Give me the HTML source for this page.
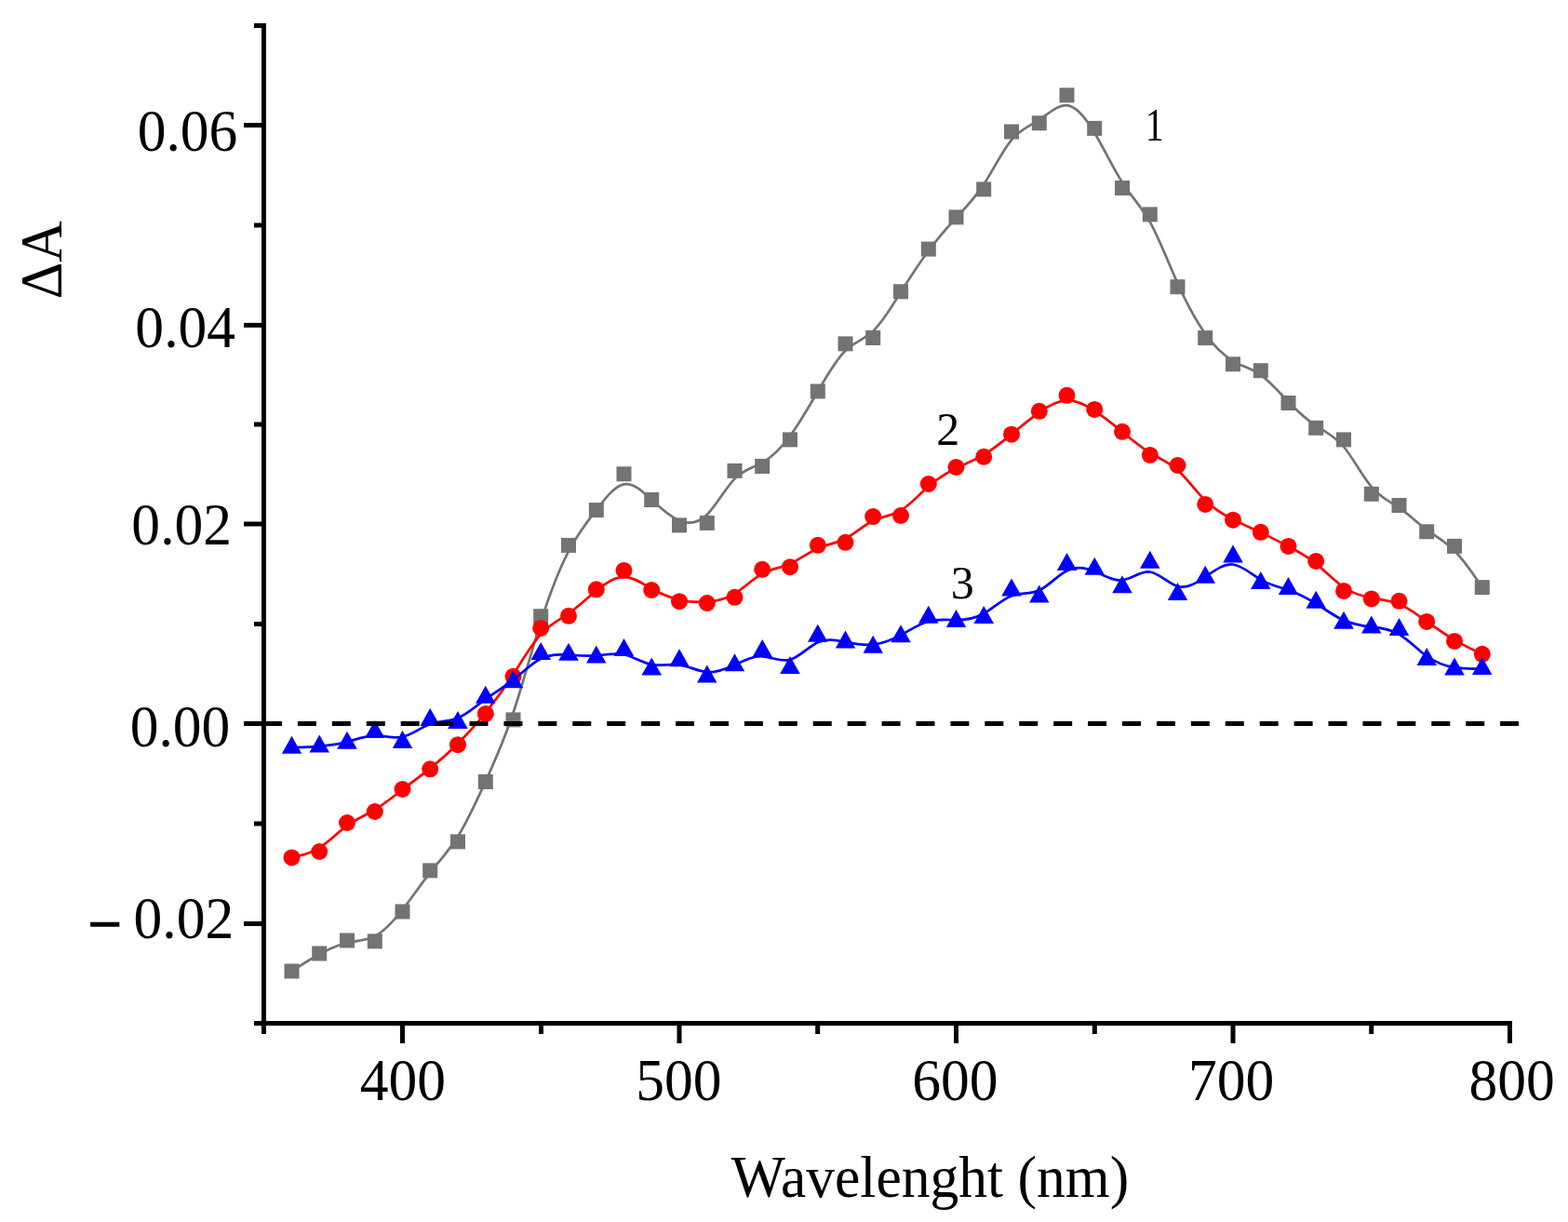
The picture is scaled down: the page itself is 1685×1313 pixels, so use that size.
<!DOCTYPE html><html><head><meta charset="utf-8"><title>Delta A spectra</title><style>html,body{margin:0;padding:0;background:#fff;}svg{display:block;}text{font-family:"Liberation Serif","Times New Roman",serif;fill:#000;}</style></head><body>
<svg width="1685" height="1313" viewBox="0 0 1685 1313">
<rect width="1685" height="1313" fill="#fff"/>
<path d="M313.5 1043.5C313.5 1043.5 313.5 1043.5 318.5 1040.3C323.4 1037.2 333.3 1030.8 343.2 1025.3C353.2 1019.8 363.1 1015.2 373.0 1013.0C382.9 1010.8 392.8 1011.1 402.8 1005.9C412.7 1000.8 422.6 990.1 432.5 977.5C442.4 964.8 452.3 950.1 462.2 937.6C472.2 925.1 482.1 914.7 492.0 898.8C501.9 882.9 511.8 861.5 521.8 839.6C531.7 817.8 541.6 795.6 551.5 766.0C561.4 736.3 571.3 699.3 581.2 668.0C591.2 636.8 601.1 611.3 611.0 592.3C620.9 573.3 630.8 560.7 640.8 547.9C650.7 535.2 660.6 522.2 670.5 520.4C680.4 518.5 690.3 527.8 700.2 537.0C710.2 546.1 720.1 555.3 730.0 559.4C739.9 563.6 749.8 562.7 759.8 553.0C769.7 543.2 779.6 524.6 789.5 514.4C799.4 504.3 809.3 502.6 819.2 497.1C829.2 491.5 839.1 481.9 849.0 468.5C858.9 455.1 868.8 437.8 878.8 420.6C888.7 403.5 898.6 386.4 908.5 376.8C918.4 367.3 928.3 365.1 938.2 355.8C948.2 346.4 958.1 329.9 968.0 314.0C977.9 298.1 987.8 282.8 997.8 269.5C1007.7 256.2 1017.6 244.8 1027.5 234.1C1037.4 223.4 1047.3 213.4 1057.2 198.1C1067.2 182.8 1077.1 162.1 1087.0 150.3C1096.9 138.4 1106.8 135.4 1116.8 128.8C1126.7 122.3 1136.6 112.3 1146.5 113.2C1156.4 114.2 1166.3 126.0 1176.2 142.7C1186.2 159.3 1196.1 180.6 1206.0 196.0C1215.9 211.5 1225.8 220.9 1235.8 238.6C1245.7 256.3 1255.6 282.3 1265.5 304.4C1275.4 326.5 1285.3 344.8 1295.2 358.7C1305.2 372.5 1315.1 381.9 1325.0 387.8C1334.9 393.6 1344.8 395.9 1354.8 402.8C1364.7 409.8 1374.6 421.4 1384.5 431.7C1394.4 441.9 1404.3 450.9 1414.2 457.4C1424.2 464.0 1434.1 468.2 1444.0 480.0C1453.9 491.9 1463.8 511.3 1473.8 523.1C1483.7 534.9 1493.6 538.9 1503.5 545.7C1513.4 552.4 1523.3 561.9 1533.2 569.2C1543.2 576.5 1553.1 581.7 1563.0 591.7C1572.9 601.6 1582.8 616.4 1587.8 623.7C1592.8 631.1 1592.8 631.1 1592.8 631.1" fill="none" stroke="#737373" stroke-width="2.7"/>
<g fill="#737373"><rect x="305.5" y="1035.5" width="16.0" height="16.0"/><rect x="335.2" y="1016.5" width="16.0" height="16.0"/><rect x="365.0" y="1002.5" width="16.0" height="16.0"/><rect x="394.8" y="1003.4" width="16.0" height="16.0"/><rect x="424.5" y="971.5" width="16.0" height="16.0"/><rect x="454.2" y="927.4" width="16.0" height="16.0"/><rect x="484.0" y="896.4" width="16.0" height="16.0"/><rect x="513.8" y="832.0" width="16.0" height="16.0"/><rect x="543.5" y="765.4" width="16.0" height="16.0"/><rect x="573.2" y="654.2" width="16.0" height="16.0"/><rect x="603.0" y="577.9" width="16.0" height="16.0"/><rect x="632.8" y="540.1" width="16.0" height="16.0"/><rect x="662.5" y="501.3" width="16.0" height="16.0"/><rect x="692.2" y="529.0" width="16.0" height="16.0"/><rect x="722.0" y="556.4" width="16.0" height="16.0"/><rect x="751.8" y="553.9" width="16.0" height="16.0"/><rect x="781.5" y="497.9" width="16.0" height="16.0"/><rect x="811.2" y="493.0" width="16.0" height="16.0"/><rect x="841.0" y="464.4" width="16.0" height="16.0"/><rect x="870.8" y="412.5" width="16.0" height="16.0"/><rect x="900.5" y="361.4" width="16.0" height="16.0"/><rect x="930.2" y="355.0" width="16.0" height="16.0"/><rect x="960.0" y="305.3" width="16.0" height="16.0"/><rect x="989.8" y="259.6" width="16.0" height="16.0"/><rect x="1019.5" y="225.4" width="16.0" height="16.0"/><rect x="1049.2" y="195.4" width="16.0" height="16.0"/><rect x="1079.0" y="133.5" width="16.0" height="16.0"/><rect x="1108.8" y="124.3" width="16.0" height="16.0"/><rect x="1138.5" y="94.3" width="16.0" height="16.0"/><rect x="1168.2" y="129.9" width="16.0" height="16.0"/><rect x="1198.0" y="194.0" width="16.0" height="16.0"/><rect x="1227.8" y="222.4" width="16.0" height="16.0"/><rect x="1257.5" y="300.2" width="16.0" height="16.0"/><rect x="1287.2" y="355.1" width="16.0" height="16.0"/><rect x="1317.0" y="383.3" width="16.0" height="16.0"/><rect x="1346.8" y="390.2" width="16.0" height="16.0"/><rect x="1376.5" y="425.0" width="16.0" height="16.0"/><rect x="1406.2" y="451.8" width="16.0" height="16.0"/><rect x="1436.0" y="464.4" width="16.0" height="16.0"/><rect x="1465.8" y="522.8" width="16.0" height="16.0"/><rect x="1495.5" y="535.0" width="16.0" height="16.0"/><rect x="1525.2" y="563.3" width="16.0" height="16.0"/><rect x="1555.0" y="578.9" width="16.0" height="16.0"/><rect x="1584.8" y="623.1" width="16.0" height="16.0"/></g>
<path d="M313.5 921.4C313.5 921.4 313.5 921.4 318.5 920.3C323.4 919.3 333.3 917.1 343.2 910.9C353.2 904.7 363.1 894.3 373.0 887.2C382.9 880.0 392.8 876.0 402.8 870.0C412.7 864.0 422.6 856.0 432.5 848.4C442.4 840.8 452.3 833.5 462.2 825.6C472.2 817.6 482.1 808.9 492.0 799.0C501.9 789.1 511.8 778.1 521.8 765.8C531.7 753.6 541.6 740.2 551.5 724.8C561.4 709.5 571.3 692.2 581.2 681.4C591.2 670.5 601.1 666.2 611.0 659.2C620.9 652.3 630.8 642.8 640.8 634.6C650.7 626.5 660.6 619.7 670.5 619.8C680.4 619.9 690.3 627.0 700.2 632.5C710.2 638.1 720.1 642.1 730.0 644.5C739.9 646.8 749.8 647.4 759.8 646.7C769.7 645.9 779.6 643.9 789.5 637.8C799.4 631.8 809.3 621.8 819.2 616.4C829.2 610.9 839.1 610.1 849.0 605.7C858.9 601.4 868.8 593.6 878.8 589.2C888.7 584.8 898.6 583.8 908.5 578.7C918.4 573.6 928.3 564.3 938.2 559.5C948.2 554.7 958.1 554.4 968.0 548.5C977.9 542.7 987.8 531.3 997.8 522.6C1007.7 514.0 1017.6 507.9 1027.5 503.1C1037.4 498.2 1047.3 494.5 1057.2 488.6C1067.2 482.8 1077.1 474.7 1087.0 466.6C1096.9 458.4 1106.8 450.1 1116.8 443.1C1126.7 436.1 1136.6 430.5 1146.5 430.2C1156.4 429.8 1166.3 434.9 1176.2 441.4C1186.2 447.9 1196.1 455.8 1206.0 464.0C1215.9 472.2 1225.8 480.5 1235.8 486.6C1245.7 492.6 1255.6 496.3 1265.5 505.1C1275.4 514.0 1285.3 527.9 1295.2 537.7C1305.2 547.5 1315.1 553.1 1325.0 558.1C1334.9 563.1 1344.8 567.4 1354.8 572.1C1364.7 576.8 1374.6 581.9 1384.5 587.0C1394.4 592.2 1404.3 597.6 1414.2 605.6C1424.2 613.6 1434.1 624.2 1444.0 631.0C1453.9 637.7 1463.8 640.6 1473.8 642.4C1483.7 644.2 1493.6 645.0 1503.5 649.1C1513.4 653.2 1523.3 660.5 1533.2 667.7C1543.2 674.9 1553.1 681.9 1563.0 687.7C1572.9 693.5 1582.8 698.2 1587.8 700.5C1592.8 702.8 1592.8 702.8 1592.8 702.8" fill="none" stroke="#f00" stroke-width="2.7"/>
<g fill="#f00"><circle cx="313.5" cy="921.4" r="9.0"/><circle cx="343.2" cy="915.0" r="9.0"/><circle cx="373.0" cy="884.0" r="9.0"/><circle cx="402.8" cy="872.0" r="9.0"/><circle cx="432.5" cy="848.0" r="9.0"/><circle cx="462.2" cy="826.3" r="9.0"/><circle cx="492.0" cy="800.2" r="9.0"/><circle cx="521.8" cy="767.0" r="9.0"/><circle cx="551.5" cy="726.8" r="9.0"/><circle cx="581.2" cy="674.9" r="9.0"/><circle cx="611.0" cy="661.8" r="9.0"/><circle cx="640.8" cy="633.3" r="9.0"/><circle cx="670.5" cy="612.9" r="9.0"/><circle cx="700.2" cy="634.0" r="9.0"/><circle cx="730.0" cy="646.2" r="9.0"/><circle cx="759.8" cy="648.0" r="9.0"/><circle cx="789.5" cy="641.8" r="9.0"/><circle cx="819.2" cy="611.8" r="9.0"/><circle cx="849.0" cy="609.2" r="9.0"/><circle cx="878.8" cy="585.8" r="9.0"/><circle cx="908.5" cy="582.8" r="9.0"/><circle cx="938.2" cy="555.1" r="9.0"/><circle cx="968.0" cy="554.0" r="9.0"/><circle cx="997.8" cy="520.0" r="9.0"/><circle cx="1027.5" cy="501.9" r="9.0"/><circle cx="1057.2" cy="490.8" r="9.0"/><circle cx="1087.0" cy="466.7" r="9.0"/><circle cx="1116.8" cy="441.8" r="9.0"/><circle cx="1146.5" cy="424.8" r="9.0"/><circle cx="1176.2" cy="439.9" r="9.0"/><circle cx="1206.0" cy="463.8" r="9.0"/><circle cx="1235.8" cy="488.9" r="9.0"/><circle cx="1265.5" cy="500.0" r="9.0"/><circle cx="1295.2" cy="541.9" r="9.0"/><circle cx="1325.0" cy="558.7" r="9.0"/><circle cx="1354.8" cy="571.8" r="9.0"/><circle cx="1384.5" cy="586.9" r="9.0"/><circle cx="1414.2" cy="602.9" r="9.0"/><circle cx="1444.0" cy="634.9" r="9.0"/><circle cx="1473.8" cy="643.4" r="9.0"/><circle cx="1503.5" cy="645.8" r="9.0"/><circle cx="1533.2" cy="667.9" r="9.0"/><circle cx="1563.0" cy="688.9" r="9.0"/><circle cx="1592.8" cy="702.8" r="9.0"/></g>
<path d="M313.5 803.4C313.5 803.4 313.5 803.4 318.5 803.2C323.4 803.0 333.3 802.6 343.2 801.8C353.2 800.9 363.1 799.7 373.0 797.1C382.9 794.5 392.8 790.5 402.8 790.4C412.7 790.2 422.6 793.9 432.5 791.7C442.4 789.6 452.3 781.6 462.2 778.1C472.2 774.6 482.1 775.6 492.0 771.5C501.9 767.5 511.8 758.5 521.8 751.2C531.7 743.9 541.6 738.4 551.5 730.6C561.4 722.8 571.3 712.7 581.2 707.8C591.2 702.8 601.1 703.1 611.0 703.7C620.9 704.3 630.8 705.2 640.8 704.4C650.7 703.7 660.6 701.2 670.5 703.3C680.4 705.5 690.3 712.3 700.2 714.1C710.2 716.0 720.1 712.9 730.0 714.3C739.9 715.6 749.8 721.4 759.8 722.2C769.7 723.1 779.6 719.0 789.5 714.5C799.4 709.9 809.3 704.8 819.2 705.3C829.2 705.7 839.1 711.6 849.0 708.9C858.9 706.2 868.8 694.8 878.8 690.2C888.7 685.6 898.6 687.9 908.5 689.9C918.4 691.9 928.3 693.6 938.2 692.6C948.2 691.5 958.1 687.7 968.0 682.4C977.9 677.1 987.8 670.3 997.8 667.5C1007.7 664.8 1017.6 666.2 1027.5 666.2C1037.4 666.2 1047.3 664.9 1057.2 659.3C1067.2 653.7 1077.1 643.9 1087.0 640.2C1096.9 636.5 1106.8 638.9 1116.8 634.3C1126.7 629.7 1136.6 618.1 1146.5 613.2C1156.4 608.2 1166.3 609.8 1176.2 613.9C1186.2 618.0 1196.1 624.5 1206.0 623.3C1215.9 622.1 1225.8 613.2 1235.8 614.5C1245.7 615.8 1255.6 627.3 1265.5 630.0C1275.4 632.7 1285.3 626.6 1295.2 619.8C1305.2 613.0 1315.1 605.5 1325.0 606.5C1334.9 607.6 1344.8 617.1 1354.8 622.8C1364.7 628.6 1374.6 630.6 1384.5 634.0C1394.4 637.5 1404.3 642.5 1414.2 648.6C1424.2 654.8 1434.1 662.1 1444.0 666.6C1453.9 671.0 1463.8 672.5 1473.8 673.7C1483.7 674.9 1493.6 675.7 1503.5 681.5C1513.4 687.3 1523.3 698.0 1533.2 705.0C1543.2 712.1 1553.1 715.6 1563.0 717.2C1572.9 718.9 1582.8 718.7 1587.8 718.6C1592.8 718.6 1592.8 718.6 1592.8 718.6" fill="none" stroke="#00f" stroke-width="2.7"/>
<g fill="#00f"><path d="M313.5 790.7L324.2 809.7L302.8 809.7Z"/><path d="M343.2 789.5L354.0 808.5L332.5 808.5Z"/><path d="M373.0 785.8L383.8 804.8L362.2 804.8Z"/><path d="M402.8 773.9L413.5 792.9L392.0 792.9Z"/><path d="M432.5 784.9L443.2 803.9L421.8 803.9Z"/><path d="M462.2 760.9L473.0 779.9L451.5 779.9Z"/><path d="M492.0 763.9L502.8 782.9L481.2 782.9Z"/><path d="M521.8 736.8L532.5 755.8L511.0 755.8Z"/><path d="M551.5 720.2L562.2 739.2L540.8 739.2Z"/><path d="M581.2 689.9L592.0 708.9L570.5 708.9Z"/><path d="M611.0 690.7L621.8 709.7L600.2 709.7Z"/><path d="M640.8 693.5L651.5 712.5L630.0 712.5Z"/><path d="M670.5 686.0L681.2 705.0L659.8 705.0Z"/><path d="M700.2 706.4L711.0 725.4L689.5 725.4Z"/><path d="M730.0 697.2L740.8 716.2L719.2 716.2Z"/><path d="M759.8 714.5L770.5 733.5L749.0 733.5Z"/><path d="M789.5 702.3L800.2 721.3L778.8 721.3Z"/><path d="M819.2 687.1L830.0 706.1L808.5 706.1Z"/><path d="M849.0 704.9L859.8 723.9L838.2 723.9Z"/><path d="M878.8 670.7L889.5 689.7L868.0 689.7Z"/><path d="M908.5 677.5L919.2 696.5L897.8 696.5Z"/><path d="M938.2 682.7L949.0 701.7L927.5 701.7Z"/><path d="M968.0 671.2L978.8 690.2L957.2 690.2Z"/><path d="M997.8 650.8L1008.5 669.8L987.0 669.8Z"/><path d="M1027.5 654.9L1038.2 673.9L1016.8 673.9Z"/><path d="M1057.2 650.9L1068.0 669.9L1046.5 669.9Z"/><path d="M1087.0 621.4L1097.8 640.4L1076.2 640.4Z"/><path d="M1116.8 628.6L1127.5 647.6L1106.0 647.6Z"/><path d="M1146.5 593.9L1157.2 612.9L1135.8 612.9Z"/><path d="M1176.2 598.8L1187.0 617.8L1165.5 617.8Z"/><path d="M1206.0 618.3L1216.8 637.3L1195.2 637.3Z"/><path d="M1235.8 591.7L1246.5 610.7L1225.0 610.7Z"/><path d="M1265.5 626.1L1276.2 645.1L1254.8 645.1Z"/><path d="M1295.2 607.8L1306.0 626.8L1284.5 626.8Z"/><path d="M1325.0 585.4L1335.8 604.4L1314.2 604.4Z"/><path d="M1354.8 613.9L1365.5 632.9L1344.0 632.9Z"/><path d="M1384.5 619.9L1395.2 638.9L1373.8 638.9Z"/><path d="M1414.2 634.8L1425.0 653.8L1403.5 653.8Z"/><path d="M1444.0 656.8L1454.8 675.8L1433.2 675.8Z"/><path d="M1473.8 661.4L1484.5 680.4L1463.0 680.4Z"/><path d="M1503.5 663.9L1514.2 682.9L1492.8 682.9Z"/><path d="M1533.2 696.0L1544.0 715.0L1522.5 715.0Z"/><path d="M1563.0 706.4L1573.8 725.4L1552.2 725.4Z"/><path d="M1592.8 705.9L1603.5 724.9L1582.0 724.9Z"/></g>
<line x1="283" y1="777.5" x2="1632" y2="777.5" stroke="#000" stroke-width="5" stroke-dasharray="20 16.92"/>
<g fill="#000">
<rect x="281" y="25" width="5" height="1077"/>
<rect x="281" y="1097" width="1344" height="5"/>
<rect x="262" y="132.0" width="19" height="5"/>
<rect x="262" y="346.9" width="19" height="5"/>
<rect x="262" y="560.5" width="19" height="5"/>
<rect x="262" y="775.0" width="19" height="5"/>
<rect x="262" y="990.0" width="19" height="5"/>
<rect x="273" y="25.0" width="8" height="5"/>
<rect x="273" y="239.5" width="8" height="5"/>
<rect x="273" y="453.5" width="8" height="5"/>
<rect x="273" y="668.0" width="8" height="5"/>
<rect x="273" y="882.5" width="8" height="5"/>
<rect x="273" y="1097.0" width="8" height="5"/>
<rect x="430.0" y="1102" width="5" height="19"/>
<rect x="727.5" y="1102" width="5" height="19"/>
<rect x="1025.0" y="1102" width="5" height="19"/>
<rect x="1322.5" y="1102" width="5" height="19"/>
<rect x="1620.0" y="1102" width="5" height="19"/>
<rect x="281.0" y="1102" width="5" height="9"/>
<rect x="579.0" y="1102" width="5" height="9"/>
<rect x="876.2" y="1102" width="5" height="9"/>
<rect x="1173.8" y="1102" width="5" height="9"/>
<rect x="1471.2" y="1102" width="5" height="9"/>
</g>
<text transform="translate(147.63 162.46) scale(0.977 1)" font-size="63">0.06</text>
<text transform="translate(145.36 372.60) scale(0.977 1)" font-size="63">0.04</text>
<text transform="translate(141.36 584.60) scale(0.977 1)" font-size="63">0.02</text>
<text transform="translate(139.64 802.36) scale(0.977 1)" font-size="63">0.00</text>
<text transform="translate(143.56 1008.30) scale(0.977 1)" font-size="63">0.02</text>
<text x="94.9" y="1014.3" font-size="63" stroke="#000" stroke-width="1.9">−</text>
<text transform="translate(386.70 1182.10) scale(0.977 1)" font-size="63">400</text>
<text transform="translate(683.17 1182.10) scale(0.977 1)" font-size="63">500</text>
<text transform="translate(980.26 1182.10) scale(0.977 1)" font-size="63">600</text>
<text transform="translate(1276.91 1182.10) scale(0.977 1)" font-size="63">700</text>
<text transform="translate(1578.46 1182.10) scale(0.977 1)" font-size="63">800</text>
<text transform="translate(785.80 1286.10) scale(0.977 1)" font-size="63">Wavelenght (nm)</text>
<text transform="translate(66 321.34) rotate(-90) scale(0.977 1)" font-size="63">ΔA</text>
<g font-size="50" text-anchor="middle">
<text transform="translate(1240.85 150.95) scale(0.8 1)">1</text>
<text x="1018.73" y="477.9">2</text>
<text x="1034.13" y="643.2">3</text>
</g>
</svg></body></html>
